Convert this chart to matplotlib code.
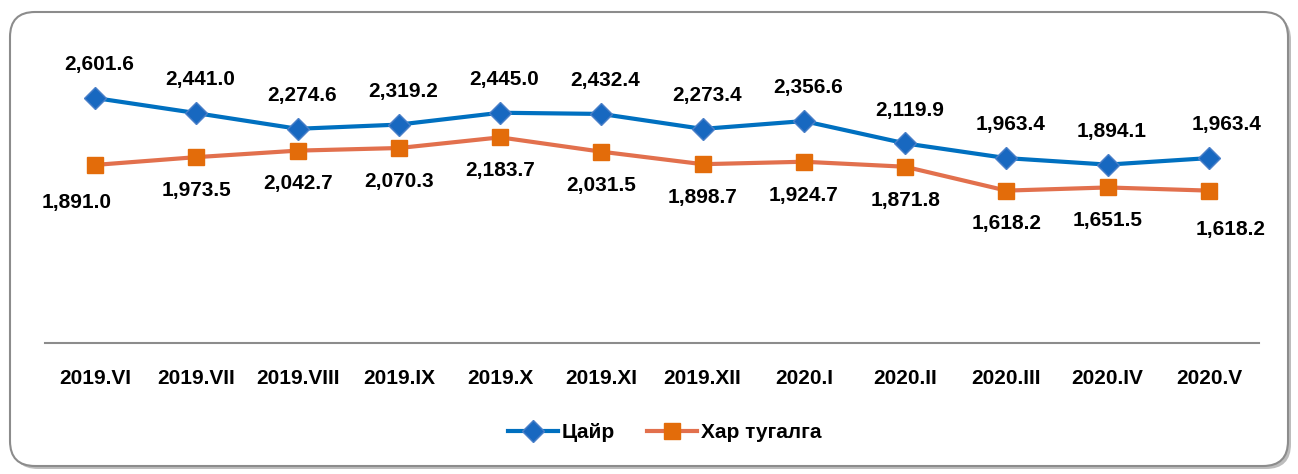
import matplotlib.pyplot as plt
from matplotlib.patches import FancyBboxPatch
from matplotlib.transforms import IdentityTransform

months = ["2019.VI", "2019.VII", "2019.VIII", "2019.IX", "2019.X", "2019.XI",
          "2019.XII", "2020.I", "2020.II", "2020.III", "2020.IV", "2020.V"]
zinc = [2601.6, 2441.0, 2274.6, 2319.2, 2445.0, 2432.4,
        2273.4, 2356.6, 2119.9, 1963.4, 1894.1, 1963.4]
lead = [1891.0, 1973.5, 2042.7, 2070.3, 2183.7, 2031.5,
        1898.7, 1924.7, 1871.8, 1618.2, 1651.5, 1618.2]

plt.rcParams['font.family'] = ['Liberation Sans', 'DejaVu Sans']
plt.rcParams['font.weight'] = 'bold'

fig = plt.figure(figsize=(12.98, 4.74), dpi=100)

# rounded frame with a light shadow, kept behind the axes
shadow = FancyBboxPatch((13, 5), 1278, 454, boxstyle="round,pad=0,rounding_size=25",
                        transform=IdentityTransform(), facecolor="#bdbdbd",
                        edgecolor="none", zorder=-2)
frame = FancyBboxPatch((10, 8), 1278, 454, boxstyle="round,pad=0,rounding_size=25",
                       transform=IdentityTransform(), facecolor="white",
                       edgecolor="#8c8c8c", lw=1.5, zorder=-1)
fig.patches.extend([shadow, frame])

ax = fig.add_axes([0.0343, 0.2764, 0.936, 0.596])
ax.patch.set_alpha(0)
x = range(len(months))

ax.plot(x, zinc, color="#0070C0", lw=3, marker="D", ms=11,
        mfc="#1868C0", mec="#4A7FC8", mew=1, label="Цайр", zorder=3)
ax.plot(x, lead, color="#E2704D", lw=3, marker="s", ms=12,
        mfc="#E36C0A", mec="#E36C0A", label="Хар тугалга", zorder=3)

# data labels: zinc above, lead below
for i, v in enumerate(zinc):
    dx = 13 if i == len(zinc) - 1 else 3
    ax.annotate(f"{v:,.1f}", (i, v), xytext=(dx, 24), textcoords="offset points",
                ha="center", va="center", fontsize=15, fontweight="bold")
for i, v in enumerate(lead):
    dx, dy = 0, -24
    if i == 0:
        dx, dy = -13, -27
    if i == len(lead) - 1:
        dx, dy = 16, -28
    ax.annotate(f"{v:,.1f}", (i, v), xytext=(dx, dy), textcoords="offset points",
                ha="center", va="center", fontsize=15, fontweight="bold")

ax.set_xlim(-0.5, len(months) - 0.5)
ax.set_ylim(0, 3000)
ax.set_xticks(list(x))
ax.set_xticklabels(months, fontsize=15, fontweight="bold")
ax.tick_params(axis="x", length=0, pad=19)
ax.set_yticks([])
for s in ["top", "right", "left"]:
    ax.spines[s].set_visible(False)
ax.spines["bottom"].set_color("#8c8c8c")
ax.spines["bottom"].set_linewidth(1.5)

fig.legend(loc="center", bbox_to_anchor=(0.512, 0.0865), ncol=2, frameon=False,
           handlelength=2.4, columnspacing=1.5, handletextpad=0.2,
           prop={"size": 15, "weight": "bold"})

fig.savefig("out.png", dpi=100)
